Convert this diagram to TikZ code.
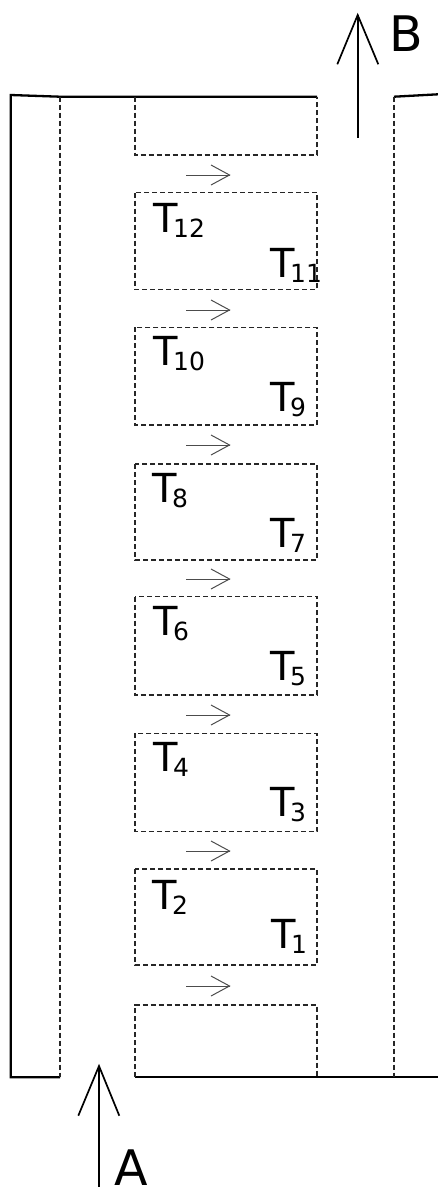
\documentclass[tikz,border=0pt]{standalone}
\usepackage{fontspec}
\setmainfont{DejaVu Sans}
\newcommand{\Tlab}[1]{T\kern-4.5pt\raisebox{-5pt}{\fontsize{25}{25}\selectfont #1}}
\begin{document}
\begin{tikzpicture}[x=1pt,y=-1pt,
  wall/.style={line width=2.3pt,black,line join=miter},
  dline/.style={line width=1.5pt,dash pattern=on 5pt off 3pt,black!85},
  flow/.style={line width=1pt,black!70},
  bigarrow/.style={line width=1.7pt,black},
  lab/.style={inner sep=0pt,anchor=base west,font=\fontsize{40}{40}\selectfont},
  biglab/.style={inner sep=0pt,anchor=base west,font=\fontsize{49}{49}\selectfont}]
\useasboundingbox (0,0) rectangle (438,1187);
% walls
\draw[wall] (60,1077.3) -- (10.7,1077.3) -- (10.7,95) -- (60,96.7) -- (317,96.7);
\draw[wall] (394,96.7) -- (438,94.3);
\draw[wall] (135,1077.3) -- (438,1077.3);
% corridor dashed lines
\draw[dline] (60,96.7) -- (60,1077.3);
\draw[dline] (394,96.7) -- (394,1077.3);
% top and bottom boxes
\draw[dline] (135,96.7) -- (135,155) -- (317,155) -- (317,96.7);
\draw[dline] (135,1077.3) -- (135,1005) -- (317,1005) -- (317,1077.3);
% middle boxes
\foreach \t/\b in {192.7/289.5, 327.3/425, 464/560, 596.7/695, 733.3/831.5, 869/965}
  \draw[dline] (135,\t) rectangle (317,\b);
% labels
\node[lab] (t12) at (153,232) {\Tlab{12}};
\node[lab] (t11) at (270,277) {\Tlab{11}};
\node[lab] (t10) at (153,365.5) {\Tlab{10}};
\node[lab] (t9) at (270,411.5) {\Tlab{9}};
\node[lab] (t8) at (152,502) {\Tlab{8}};
\node[lab] (t7) at (270,547) {\Tlab{7}};
\node[lab] (t6) at (153,635.7) {\Tlab{6}};
\node[lab] (t5) at (270,680.7) {\Tlab{5}};
\node[lab] (t4) at (153,771.7) {\Tlab{4}};
\node[lab] (t3) at (270,816.7) {\Tlab{3}};
\node[lab] (t2) at (152,909) {\Tlab{2}};
\node[lab] (t1) at (271,948.3) {\Tlab{1}};
% small flow arrows
\foreach \y [count=\i] in {175,310,445,579,715,851,986}{
  \coordinate (fs\i) at (186,\y);
  \coordinate (ft\i) at (229.5,\y);
  \draw[flow] (fs\i) -- (ft\i);
  \draw[flow] (211,\y-10) -- (ft\i) -- (211,\y+10);
}
% exit arrow B
\coordinate (bs) at (357.7,137.7);
\coordinate (bt) at (357.7,15);
\draw[bigarrow] (bs) -- (bt);
\draw[bigarrow] (337.3,64.3) -- (bt) -- (378.3,64.3);
\node[biglab] (B) at (389.5,51) {B};
% entry arrow A
\coordinate (as) at (99,1187);
\coordinate (at) at (99,1066);
\draw[bigarrow] (as) -- (at);
\draw[bigarrow] (78.3,1115.7) -- (at) -- (119.3,1115.7);
\node[biglab] (A) at (114.5,1185.5) {A};
\end{tikzpicture}
\end{document}
